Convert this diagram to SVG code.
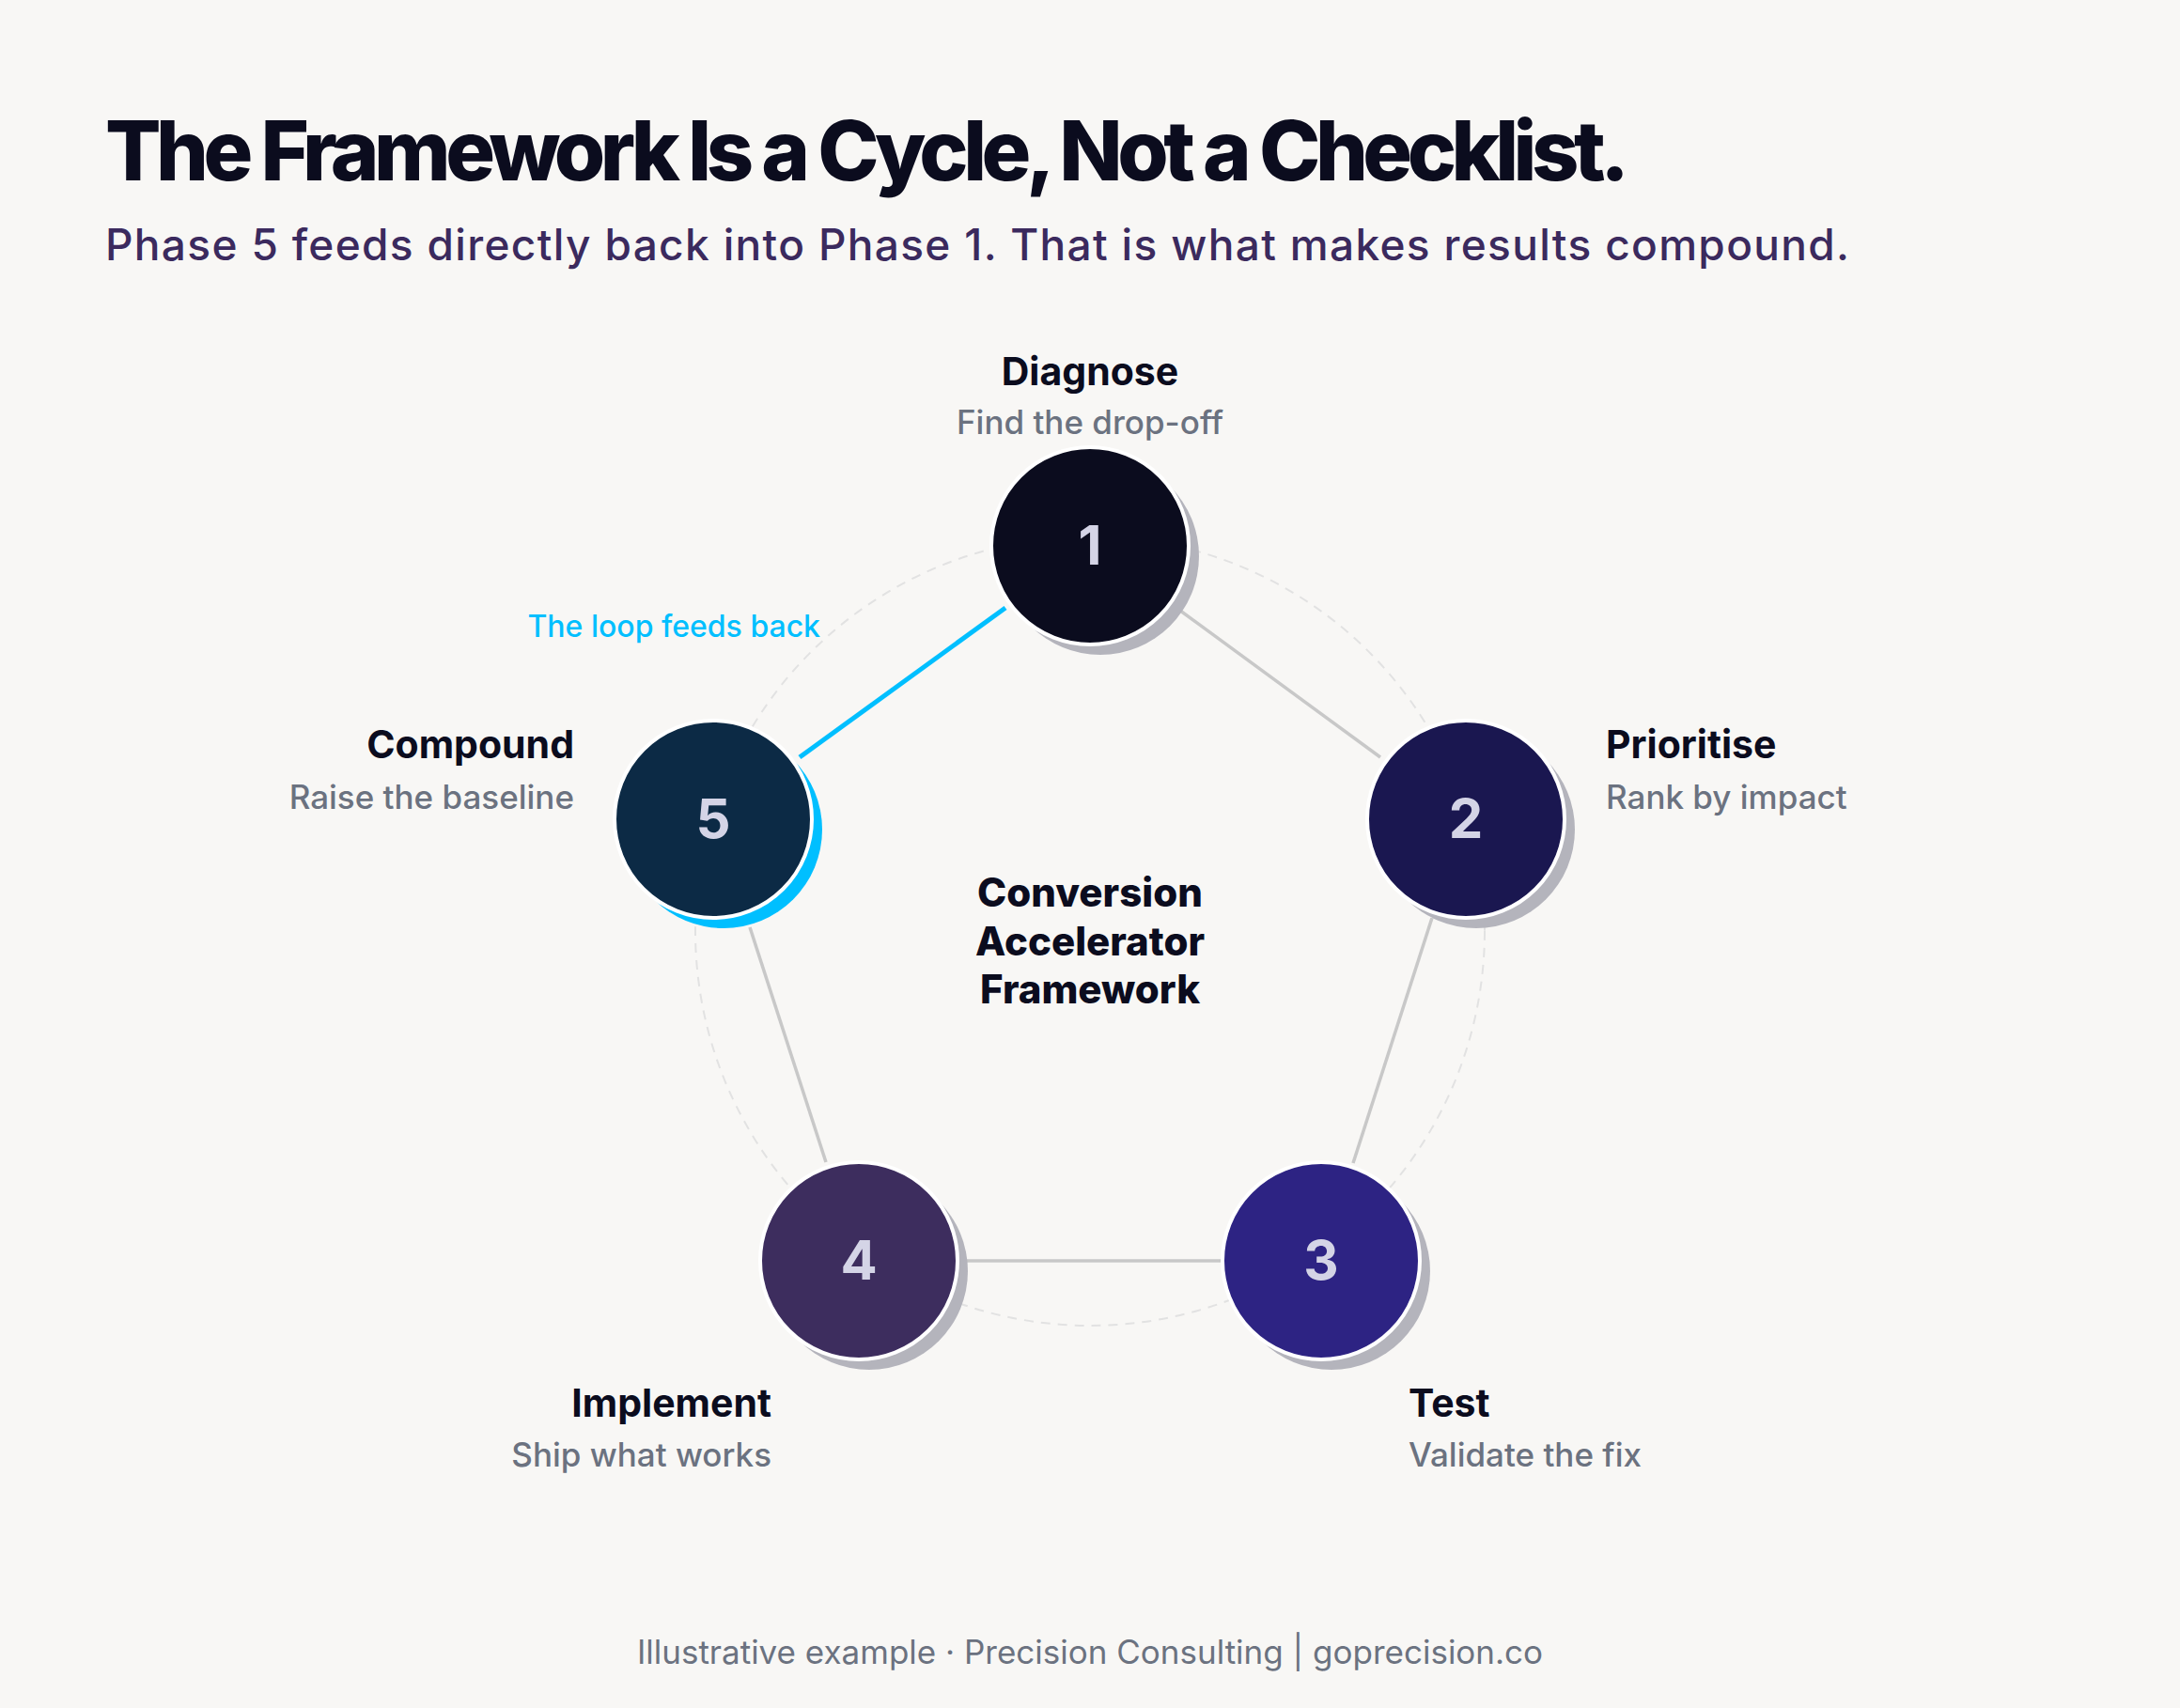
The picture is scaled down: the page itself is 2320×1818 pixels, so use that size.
<svg xmlns="http://www.w3.org/2000/svg" width="2320" height="1818" viewBox="0 0 2320 1818">
<style>
.t{font-family:Inter,"Liberation Sans",sans-serif}
.h{font-weight:700;font-size:41px;fill:#0b0c1e}
.s{font-size:35px;fill:#6b7280;font-weight:500}
.n{font-weight:700;font-size:58px;fill:#d4d4e6;text-anchor:middle}
.c{font-weight:800;font-size:42px;fill:#0b0c1e;text-anchor:middle}
.sh{fill:#b4b4bc}
.ln{stroke:#c8c8c8;stroke-width:3.5;fill:none}
</style>
<rect width="2320" height="1818" fill="#f8f7f5"/>
<text class="t" x="112" y="192" font-size="88" font-weight="800" fill="#0b0c1e" letter-spacing="-3" textLength="1619">The Framework Is a Cycle, Not a Checklist.</text>
<text class="t" x="112" y="277" font-size="46" font-weight="500" fill="#3b2a5e" textLength="1856">Phase 5 feeds directly back into Phase 1. That is what makes results compound.</text>
<circle cx="1160" cy="991" r="420" fill="none" stroke="#e2e2e2" stroke-width="2" stroke-dasharray="10 8"/>
<g id="connectors">
<line class="ln" x1="1252" y1="647" x2="1469" y2="806"/>
<line class="ln" x1="1524" y1="977" x2="1440" y2="1238"/>
<line class="ln" x1="1299" y1="1342" x2="1024" y2="1342"/>
<line class="ln" x1="879" y1="1237" x2="798" y2="987"/>
<line x1="851" y1="806" x2="1070" y2="647" stroke="#00bfff" stroke-width="5"/>
</g>
<text class="t" x="873" y="678" font-size="32" font-weight="500" fill="#00bfff" text-anchor="end">The loop feeds back</text>
<g id="n1"><circle class="sh" cx="1171" cy="592" r="105"/><circle cx="1160" cy="581" r="105" fill="#0b0c1e" stroke="#fff" stroke-width="4"/><text class="t n" x="1160" y="601">1</text>
<text class="t h" x="1160" y="410" text-anchor="middle">Diagnose</text><text class="t s" x="1160" y="462" text-anchor="middle">Find the drop-off</text></g>
<g id="n2"><circle class="sh" cx="1571" cy="883" r="105"/><circle cx="1560" cy="872" r="105" fill="#1a1750" stroke="#fff" stroke-width="4"/><text class="t n" x="1560" y="892">2</text>
<text class="t h" x="1709" y="807">Prioritise</text><text class="t s" x="1709" y="861">Rank by impact</text></g>
<g id="n3"><circle class="sh" cx="1417" cy="1353" r="105"/><circle cx="1406" cy="1342" r="105" fill="#2d2383" stroke="#fff" stroke-width="4"/><text class="t n" x="1406" y="1362">3</text>
<text class="t h" x="1499" y="1508">Test</text><text class="t s" x="1499" y="1561">Validate the fix</text></g>
<g id="n4"><circle class="sh" cx="925" cy="1353" r="105"/><circle cx="914" cy="1342" r="105" fill="#3d2d5e" stroke="#fff" stroke-width="4"/><text class="t n" x="914" y="1362">4</text>
<text class="t h" x="821" y="1508" text-anchor="end">Implement</text><text class="t s" x="821" y="1561" text-anchor="end">Ship what works</text></g>
<g id="n5"><circle cx="770" cy="883" r="105" fill="#00bfff"/><circle cx="759" cy="872" r="105" fill="#0c2a45" stroke="#fff" stroke-width="4"/><text class="t n" x="759" y="892">5</text>
<text class="t h" x="611" y="807" text-anchor="end">Compound</text><text class="t s" x="611" y="861" text-anchor="end">Raise the baseline</text></g>
<g id="center"><text class="t c" x="1160" y="965">Conversion</text><text class="t c" x="1160" y="1017">Accelerator</text><text class="t c" x="1160" y="1068">Framework</text></g>
<text class="t" x="1160" y="1771" font-size="35" fill="#6b7280" text-anchor="middle">Illustrative example  ·  Precision Consulting | goprecision.co</text>
</svg>
